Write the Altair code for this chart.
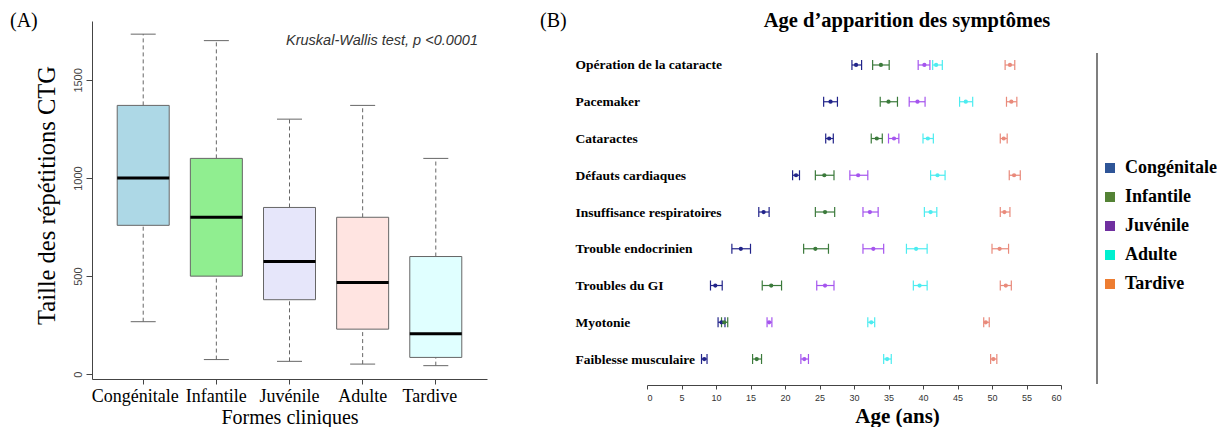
import altair as alt
import pandas as pd

SERIF = "Liberation Serif"
SANS = "Liberation Sans"

# ---------------- Panel A data ----------------
forms = ["Congénitale", "Infantile", "Juvénile", "Adulte", "Tardive"]
ctg_lower = [268, 75, 66, 52, 44]
ctg_q1 = [759, 500, 380, 230, 86]
ctg_median = [1000, 800, 575, 468, 207]
ctg_q3 = [1370, 1100, 850, 800, 600]
ctg_upper = [1733, 1700, 1300, 1370, 1100]
box_fill = ["#add8e6", "#90ee90", "#e6e6fa", "#ffe4e1", "#e0ffff"]
yA_ticks = [0, 500, 1000, 1500]

# ---------------- Panel B data ----------------
symptoms = ["Opération de la cataracte", "Pacemaker", "Cataractes", "Défauts cardiaques",
            "Insuffisance respiratoires", "Trouble endocrinien", "Troubles du GI",
            "Myotonie", "Faiblesse musculaire"]

cong_mid = [30.3, 26.6, 26.4, 21.6, 16.9, 13.6, 9.9, 10.8, 8.3]
cong_lo = [29.7, 25.6, 25.9, 21.1, 16.2, 12.3, 9.2, 10.3, 7.9]
cong_hi = [31.1, 27.6, 27.0, 22.1, 17.7, 15.0, 10.9, 11.3, 8.7]

inf_mid = [33.9, 35.0, 33.3, 25.7, 25.8, 24.4, 18.0, 11.2, 15.9]
inf_lo = [32.7, 33.8, 32.5, 24.4, 24.4, 22.7, 16.7, 10.8, 15.3]
inf_hi = [35.1, 36.3, 34.1, 27.1, 27.2, 26.3, 19.5, 11.7, 16.6]

juv_mid = [40.2, 39.2, 35.8, 30.6, 32.3, 32.8, 25.8, 17.7, 22.8]
juv_lo = [39.3, 38.0, 35.0, 29.4, 31.3, 31.3, 24.6, 17.4, 22.3]
juv_hi = [41.0, 40.3, 36.5, 32.0, 33.5, 34.3, 27.1, 18.1, 23.4]

adu_mid = [41.9, 46.2, 40.7, 42.1, 41.1, 39.0, 39.5, 32.5, 34.8]
adu_lo = [41.4, 45.3, 40.0, 41.1, 40.2, 37.6, 38.6, 32.0, 34.3]
adu_hi = [42.8, 47.2, 41.5, 43.2, 42.0, 40.6, 40.6, 33.0, 35.4]

tar_mid = [52.6, 52.8, 51.7, 53.2, 51.8, 51.1, 52.0, 49.1, 50.2]
tar_lo = [51.9, 52.1, 51.2, 52.5, 51.2, 50.0, 51.2, 48.8, 49.8]
tar_hi = [53.3, 53.6, 52.2, 54.1, 52.6, 52.4, 52.8, 49.6, 50.7]

bar_colors = ["#22248a", "#3b7a3b", "#a555ee", "#4cecf0", "#e98a7b"]
legend_colors = ["#2e5597", "#548235", "#7030a0", "#00f0d0", "#ed7d31"]
age_ticks = [0, 5, 10, 15, 20, 25, 30, 35, 40, 45, 50, 55, 60]

# ---------------- Panel A ----------------
dfA = pd.DataFrame({"forme": forms, "lower": ctg_lower, "q1": ctg_q1,
                    "median": ctg_median, "q3": ctg_q3, "upper": ctg_upper})

xA = alt.X("forme:N", sort=forms,
           scale=alt.Scale(domain=forms, paddingOuter=0.2, paddingInner=0),
           axis=alt.Axis(title="Formes cliniques", labelAngle=0, labelFont=SERIF,
                         labelFontSize=18, labelColor="black", titleFont=SERIF,
                         titleFontSize=20, titleFontWeight="normal", titleColor="black",
                         tickSize=5, tickColor="#444", domainColor="#444",
                         labelPadding=3, titlePadding=2,
                         labelOffset={"condition": [
                             {"test": "datum.value === 'Congénitale'", "value": -8},
                             {"test": "datum.value === 'Tardive'", "value": -6}],
                             "value": 0}))
yA_scale = alt.Scale(domain=[-24, 1800], nice=False, zero=False)
yA_axis = alt.Axis(values=yA_ticks, format="d", title="Taille des répétitions CTG", labelAngle=270,
                   labelAlign="center", labelBaseline="bottom",
                   labelFont=SANS, labelFontSize=11, labelColor="#444",
                   titleFont=SERIF, titleFontSize=24.5, titleFontWeight="normal",
                   titleColor="black", tickSize=6, tickColor="#444", domainColor="#444",
                   labelPadding=3, titlePadding=13, titleY=174, titleAlign="center",
                   grid=False)

baseA = alt.Chart(dfA)
whisk_up = baseA.mark_rule(strokeDash=[4, 3], color="#666", strokeWidth=1).encode(
    x=xA, y=alt.Y("q3:Q", scale=yA_scale, axis=yA_axis), y2="upper:Q")
whisk_lo = baseA.mark_rule(strokeDash=[4, 3], color="#666", strokeWidth=1).encode(
    x=xA, y=alt.Y("lower:Q", scale=yA_scale, axis=yA_axis), y2="q1:Q")
cap_up = baseA.mark_tick(orient="horizontal", size=25, thickness=1, color="#666", opacity=1).encode(
    x=xA, y=alt.Y("upper:Q", scale=yA_scale, axis=yA_axis))
cap_lo = baseA.mark_tick(orient="horizontal", size=25, thickness=1, color="#666", opacity=1).encode(
    x=xA, y=alt.Y("lower:Q", scale=yA_scale, axis=yA_axis))
boxes = baseA.mark_bar(size=52, stroke="#666", strokeWidth=1).encode(
    x=xA, y=alt.Y("q1:Q", scale=yA_scale, axis=yA_axis), y2="q3:Q",
    color=alt.Color("forme:N", scale=alt.Scale(domain=forms, range=box_fill), legend=None))
medians = baseA.mark_tick(orient="horizontal", size=52, thickness=3, color="black", opacity=1).encode(
    x=xA, y=alt.Y("median:Q", scale=yA_scale, axis=yA_axis))

labA = alt.Chart(pd.DataFrame({"t": ["(A)"]})).mark_text(
    font=SERIF, fontSize=20, align="left", baseline="middle", color="black").encode(
    text="t:N", x=alt.value(-82), y=alt.value(0))
kw = alt.Chart(pd.DataFrame({"t": ["Kruskal-Wallis test, p <0.0001"]})).mark_text(
    font=SANS, fontSize=14.5, fontStyle="italic", align="right", baseline="middle",
    color="#333").encode(text="t:N", x=alt.value(386), y=alt.value(20))

panelA = alt.layer(whisk_up, whisk_lo, cap_up, cap_lo, boxes, medians, labA, kw).properties(
    width=395, height=358)

# ---------------- Panel B ----------------
series = [(cong_mid, cong_lo, cong_hi), (inf_mid, inf_lo, inf_hi), (juv_mid, juv_lo, juv_hi),
          (adu_mid, adu_lo, adu_hi), (tar_mid, tar_lo, tar_hi)]
rows = []
n = len(symptoms)
for f, (mids, los, his) in zip(forms, series):
    for i, s in enumerate(symptoms):
        rows.append({"symptome": s, "rang": n - 1 - i, "forme": f,
                     "mid": mids[i], "lo": los[i], "hi": his[i]})
dfB = pd.DataFrame(rows)

labels_by_rank = symptoms[::-1]
label_expr = "[" + ",".join("'" + s + "'" for s in labels_by_rank) + "][datum.value]"

yB = alt.Y("rang:Q", scale=alt.Scale(domain=[-0.707, 9.197], nice=False, zero=False),
           axis=alt.Axis(values=list(range(n)), labelExpr=label_expr, labelAlign="left",
                         labelBaseline="middle", labelPadding=72, ticks=False, tickSize=0,
                         domain=False, grid=False, title=None, labelFont=SERIF,
                         labelFontWeight="bold", labelFontSize=13.5, labelColor="black",
                         labelLimit=300))
xB_scale = alt.Scale(domain=[0, 60], nice=False, zero=False)
xB_axis = alt.Axis(values=age_ticks, title="Age (ans)", labelFont=SANS, labelFontSize=9,
                   labelColor="#333", tickSize=4, tickColor="#444", domainColor="#444",
                   labelPadding=4, titleFont=SERIF, titleFontSize=21, titleFontWeight="bold",
                   titleColor="black", titlePadding=3, titleX=250, titleAlign="center",
                   grid=False)
bar_scale = alt.Scale(domain=forms, range=bar_colors)

baseB = alt.Chart(dfB)
lines = baseB.mark_rule(strokeWidth=1.2).encode(
    x=alt.X("lo:Q", scale=xB_scale, axis=xB_axis), x2="hi:Q", y=yB,
    color=alt.Color("forme:N", scale=bar_scale, legend=None))
caps_l = baseB.mark_tick(orient="vertical", size=10, thickness=1.2, opacity=1).encode(
    x=alt.X("lo:Q", scale=xB_scale, axis=xB_axis), y=yB,
    color=alt.Color("forme:N", scale=bar_scale, legend=None))
caps_h = baseB.mark_tick(orient="vertical", size=10, thickness=1.2, opacity=1).encode(
    x=alt.X("hi:Q", scale=xB_scale, axis=xB_axis), y=yB,
    color=alt.Color("forme:N", scale=bar_scale, legend=None))
dots = baseB.mark_circle(size=18, opacity=1).encode(
    x=alt.X("mid:Q", scale=xB_scale, axis=xB_axis), y=yB,
    color=alt.Color("forme:N", scale=bar_scale, legend=None))
leg = baseB.mark_square(opacity=0).encode(
    x=alt.X("mid:Q", scale=xB_scale, axis=xB_axis), y=yB,
    color=alt.Color("forme:N", scale=alt.Scale(domain=forms, range=legend_colors),
                    legend=alt.Legend(title=None, orient="none", legendX=454, legendY=138,
                                      symbolType="square", symbolSize=100, symbolOpacity=1,
                                      symbolStrokeWidth=0, labelFont=SERIF, labelFontSize=18,
                                      labelFontWeight="bold", labelColor="black",
                                      rowPadding=11, labelOffset=6, padding=0)))
border = alt.Chart(pd.DataFrame({"a": [0]})).mark_rule(color="#555", strokeWidth=1.5).encode(
    x=alt.value(450), y=alt.value(32), y2=alt.value(363))
titleB = alt.Chart(pd.DataFrame({"t": ["Age d’apparition des symptômes"]})).mark_text(
    font=SERIF, fontSize=20.5, fontWeight="bold", align="center", baseline="middle",
    color="black").encode(text="t:N", x=alt.value(260), y=alt.value(0))
labB = alt.Chart(pd.DataFrame({"t": ["(B)"]})).mark_text(
    font=SERIF, fontSize=20, align="left", baseline="middle", color="black").encode(
    text="t:N", x=alt.value(-107), y=alt.value(0))

panelB = alt.layer(lines, caps_l, caps_h, dots, leg, border, titleB, labB).resolve_scale(
    color="independent").properties(width=414, height=364)

chart = alt.hconcat(panelA, panelB, spacing=160, bounds="flush").resolve_scale(
    color="independent").properties(
    padding={"left": 2, "top": 3, "right": 0, "bottom": 0}).configure_view(stroke=None)

chart.save("out.html", embed_options={"renderer": "svg", "actions": False})
